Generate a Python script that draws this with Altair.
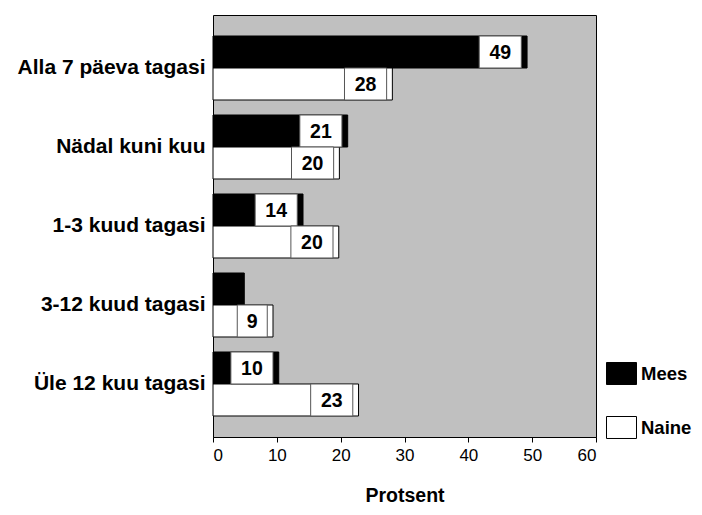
import altair as alt
import pandas as pd

categories = ["Alla 7 päeva tagasi", "Nädal kuni kuu", "1-3 kuud tagasi",
              "3-12 kuud tagasi", "Üle 12 kuu tagasi"]
series = ["Mees", "Naine"]
mees = [49.2, 21.1, 14.1, 4.9, 10.3]
naine = [28.1, 19.8, 19.7, 9.4, 22.8]
mees_labels = [49, 21, 14, None, 10]
naine_labels = [28, 20, 20, 9, 23]
x_ticks = [0, 10, 20, 30, 40, 50, 60]

rows = []
for c, m, n, ml, nl in zip(categories, mees, naine, mees_labels, naine_labels):
    rows.append({"cat": c, "sex": "Mees", "v": m, "lab": ml})
    rows.append({"cat": c, "sex": "Naine", "v": n, "lab": nl})
df = pd.DataFrame(rows)

FONT = "Liberation Sans"

y_enc = alt.Y("cat:N", sort=categories,
              scale=alt.Scale(paddingInner=0.19, paddingOuter=0.266),
              axis=alt.Axis(title=None, labelFont=FONT, labelFontWeight="bold",
                            labelFontSize=21, labelColor="black", ticks=False,
                            domain=False, labelPadding=8, labelLimit=400))
yoff = alt.YOffset("sex:N", sort=series)

base = alt.Chart(df)

bars = base.mark_bar(stroke="black", strokeWidth=1).encode(
    x=alt.X("v:Q", scale=alt.Scale(domain=[0, 60], nice=False),
            axis=alt.Axis(values=x_ticks, title="Protsent", grid=False,
                          labelFont=FONT, labelFontSize=17, labelColor="black",
                          labelFontWeight="normal",
                          tickColor="black", tickSize=5, domainColor="black",
                          titleFont=FONT, titleFontSize=19.5, titleFontWeight="bold",
                          titleColor="black", titlePadding=23, labelPadding=5)),
    y=y_enc,
    yOffset=yoff,
    color=alt.Color("sex:N", sort=series,
                    scale=alt.Scale(domain=series, range=["black", "white"]),
                    legend=alt.Legend(title=None, orient="none", legendX=393,
                                      legendY=343, symbolType="M-1,-0.733H1V0.733H-1Z",
                                      symbolSize=900, symbolStrokeColor="black",
                                      symbolStrokeWidth=1, labelFont=FONT,
                                      labelFontSize=18.5, labelFontWeight="bold",
                                      labelColor="black", rowPadding=25,
                                      labelOffset=4, padding=0, labelLimit=200)),
)

labeled = base.transform_filter("isValid(datum.lab)").transform_calculate(
    box_r="datum.v - 0.9",
).transform_calculate(
    box_l="datum.box_r - (datum.lab >= 10 ? 6.6 : 4.7)",
).transform_calculate(
    mid="(datum.box_l + datum.box_r) / 2",
)

boxes = labeled.mark_rect(fill="white", stroke="#555555", strokeWidth=1).encode(
    x="box_l:Q", x2="box_r:Q", y=y_enc, yOffset=yoff,
)

texts = labeled.mark_text(font=FONT, fontSize=19.5, fontWeight="bold",
                          color="black", align="center", baseline="middle",
                          dy=1).encode(
    x="mid:Q", y=y_enc, yOffset=yoff, text="lab:Q",
)

chart = alt.layer(bars, boxes, texts).properties(
    width=383, height=422,
    autosize=alt.AutoSizeParams(type="none"),
    padding={"left": 205, "top": 7, "right": 98, "bottom": 70},
).configure_view(
    fill="#c0c0c0", stroke="black", strokeWidth=1,
)

chart.save("out.html", embed_options={"renderer": "svg", "actions": False})
